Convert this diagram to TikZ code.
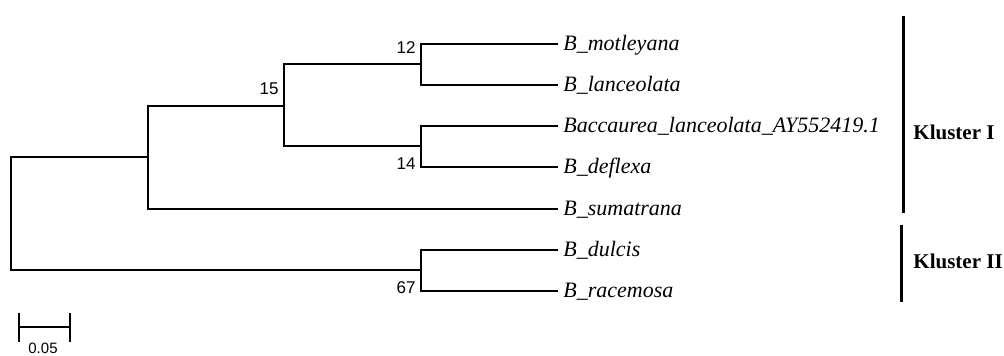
\documentclass[tikz,border=0pt]{standalone}
\usepackage{fontspec}
\setmainfont{Liberation Serif}
\setsansfont{Liberation Sans}
\usetikzlibrary{positioning}

\begin{document}
\begin{tikzpicture}[x=0.5pt, y=-0.5pt,
    branch/.style={line width=0.8pt},
    leaf/.style={anchor=west, inner xsep=2.5pt, inner ysep=0pt, font=\fontsize{11}{13}\selectfont\itshape, text height=0.66em, text depth=0pt},
    boot/.style={anchor=east, inner sep=0pt, font=\sffamily\fontsize{8.5}{10}\selectfont},
    kbar/.style={line width=1.5pt},
    klabel/.style={anchor=west, inner sep=0pt, font=\fontsize{10.5}{12}\selectfont\bfseries}]
  \useasboundingbox (0,0) rectangle (1004,356);
  % 分支点
  \coordinate (root) at (11,270);
  \coordinate (n0) at (148,157);
  \coordinate (n15) at (284,106);
  \coordinate (n12) at (421,64);
  \coordinate (n14) at (421,146);
  \coordinate (n67) at (421,270);
  % 物种
  \node[leaf] (mot) at (558,44) {B\_motleyana};
  \node[leaf] (lan) at (558,85) {B\_lanceolata};
  \node[leaf] (bac) at (558,126) {Baccaurea\_lanceolata\_AY552419.1};
  \node[leaf] (def) at (558,167) {B\_deflexa};
  \node[leaf] (sum) at (558,209) {B\_sumatrana};
  \node[leaf] (dul) at (558,250) {B\_dulcis};
  \node[leaf] (rac) at (558,291) {B\_racemosa};
  % 树枝
  \draw[branch] (mot.west) -| (n12) |- (lan.west);
  \draw[branch] (bac.west) -| (n14) |- (def.west);
  \draw[branch] (n12) -| (n15) |- (n14);
  \draw[branch] (n15) -| (n0) |- (sum.west);
  \draw[branch] (dul.west) -| (n67) |- (rac.west);
  \draw[branch] (n0) -| (root) |- (n67);
  % 自展值
  \node[boot] (b12) at (416,48) {12};
  \node[boot] (b15) at (279,89) {15};
  \node[boot] (b14) at (416,164) {14};
  \node[boot] (b67) at (416,288) {67};
  % 标尺
  \coordinate (sbl) at (19,327);
  \coordinate (sbr) at (70,327);
  \draw[branch] (sbl) -- (sbr);
  \draw[branch] (sbl) ++(0,-14) -- ++(0,29);
  \draw[branch] (sbr) ++(0,-14) -- ++(0,29);
  \node[inner sep=0pt, font=\sffamily\fontsize{7.5}{9}\selectfont] (sblab) at (43,348) {0.05};
  % 分组
  \draw[kbar] (903,16) -- (903,213);
  \draw[kbar] (901,225) -- (901,302);
  \node[klabel] (k1) at (913,132) {Kluster I};
  \node[klabel] (k2) at (913,261) {Kluster II};
\end{tikzpicture}
\end{document}
